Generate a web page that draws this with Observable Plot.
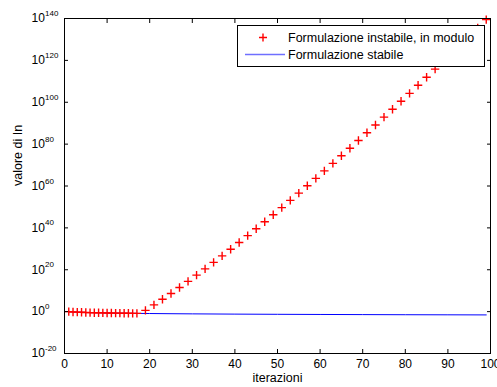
<!DOCTYPE html>
<html>
<head>
<meta charset="utf-8">
<script src="https://cdn.jsdelivr.net/npm/d3@7"></script>
<script src="https://cdn.jsdelivr.net/npm/@observablehq/plot@0.6"></script>
<style>
  html, body { margin: 0; padding: 0; background: #fff; }
  #chart { width: 497px; height: 387px; }
</style>
</head>
<body>
<div id="chart"></div>
<script>
// Formulazione instabile (in modulo): iterazione n e valore |I_n|
const nInstabile = [1,2,3,4,5,6,7,8,9,10,11,12,13,14,15,16,17,
  19,21,23,25,27,29,31,33,35,37,39,41,43,45,47,49,51,53,55,57,59,61,63,65,67,69,71,73,75,77,79,81,83,85,87,89,91,93,95,97,99];
const vInstabile = [1.0,0.718,0.563,0.465,0.396,0.345,0.305,0.274,0.249,0.228,0.210,0.195,0.182,0.171,0.161,0.152,0.144,
  3.8e0,1.6e3,8.2e5,4.9e8,3.4e11,2.8e14,2.6e17,2.7e20,3.3e23,4.3e26,6.4e29,1.0e33,1.9e36,3.7e39,8.0e42,1.9e46,4.9e49,
  1.3e53,4.0e56,1.3e60,4.4e63,1.6e67,6.2e70,2.6e74,1.1e78,5.3e81,2.7e85,1.4e89,7.9e92,4.6e96,2.8e100,1.8e104,1.3e108,
  8.9e111,6.6e115,5.2e119,4.3e123,3.6e127,3.2e131,3.0e135,3.0e139];

// Formulazione stabile
const nStabile = [1,2,3,4,5,6,7,8,9,10,12,15,20,25,30,40,50,60,70,80,90,99];
const vStabile = [1.0,0.718,0.563,0.465,0.396,0.345,0.305,0.274,0.249,0.228,0.195,0.1605,0.1238,0.1008,0.0850,
  0.0648,0.0523,0.0439,0.0378,0.0332,0.0296,0.0269];

const xTicks = [0,10,20,30,40,50,60,70,80,90,100];
const yTicks = [1e-20,1e0,1e20,1e40,1e60,1e80,1e100,1e120,1e140];
const yTickExp = ["-20","0","20","40","60","80","100","120","140"];

const legendLabels = ["Formulazione instabile, in modulo", "Formulazione stabile"];
const xLabel = "iterazioni";
const yLabel = "valore di In";

const instabile = nInstabile.map((n, i) => ({n, v: vInstabile[i]}));
const stabile = nStabile.map((n, i) => ({n, v: vStabile[i]}));

const thinPlus = {
  draw(ctx, size) {
    const h = Math.sqrt(size / Math.PI);
    ctx.moveTo(-h, 0); ctx.lineTo(h, 0);
    ctx.moveTo(0, -h); ctx.lineTo(0, h);
  }
};

const FONT = "'Liberation Sans', Arial, Helvetica, sans-serif";
const none = () => "";

const chart = Plot.plot({
  width: 497,
  height: 387,
  marginLeft: 64,
  marginRight: 7,
  marginTop: 18,
  marginBottom: 34,
  style: {fontFamily: FONT, fontSize: "12px", background: "#fff", color: "#000", overflow: "visible"},
  x: {domain: [0, 100], label: null},
  y: {type: "log", domain: [1e-20, 1e140], label: null},
  marks: [
    Plot.line(stabile, {x: "n", y: "v", stroke: "#0000ff", strokeWidth: 1}),
    Plot.dot(instabile, {x: "n", y: "v", symbol: thinPlus, r: 4.2, fill: "none", stroke: "#ff0000", strokeWidth: 1.4}),
    Plot.frame({stroke: "#000", strokeWidth: 1}),
    // inward ticks on all four sides
    Plot.axisX({anchor: "bottom", ticks: xTicks, tickSize: 4, dy: -4, tickFormat: none, label: null}),
    Plot.axisX({anchor: "top", ticks: xTicks, tickSize: 4, dy: 4, tickFormat: none, label: null}),
    Plot.axisY({anchor: "left", ticks: yTicks, tickSize: 4, dx: 4, tickFormat: none, label: null}),
    Plot.axisY({anchor: "right", ticks: yTicks, tickSize: 4, dx: -4, tickFormat: none, label: null}),
    // tick labels
    Plot.axisX({anchor: "bottom", ticks: xTicks, tickSize: 0, tickPadding: 6, label: null, fontSize: 12}),
    Plot.text(yTicks, {y: d => d, text: () => "10", frameAnchor: "left", dx: -33, textAnchor: "start", fontSize: 12}),
    Plot.text(yTicks, {y: d => d, text: yTickExp, frameAnchor: "left", dx: -19.5, dy: -5, textAnchor: "start", fontSize: 8}),
    // axis titles
    Plot.text([xLabel], {text: d => d, frameAnchor: "bottom", dy: 28, fontSize: 12.5}),
    Plot.text([yLabel], {text: d => d, frameAnchor: "left", rotate: -90, dx: -47, fontSize: 12.5})
  ]
});

document.getElementById("chart").appendChild(chart);

// legend box (upper right, over the data)
const svg = d3.select(chart);
const lg = svg.append("g").attr("font-family", FONT).attr("font-size", 12.5).attr("text-anchor", "start");
lg.append("rect").attr("x", 237.5).attr("y", 25.5).attr("width", 247).attr("height", 41)
  .attr("fill", "#fff").attr("stroke", "#000").attr("stroke-width", 1);
lg.append("path").attr("d", "M259,37.5H267M263,33.5V41.5").attr("stroke", "#ff0000").attr("fill", "none")
  .attr("stroke-width", 1.4);
lg.append("line").attr("x1", 245).attr("x2", 285).attr("y1", 54.5).attr("y2", 54.5)
  .attr("stroke", "#6f6fff").attr("stroke-width", 1.5);
lg.append("text").attr("x", 288).attr("y", 42).attr("fill", "#000").text(legendLabels[0]);
lg.append("text").attr("x", 288).attr("y", 59).attr("fill", "#000").text(legendLabels[1]);
</script>
</body>
</html>
